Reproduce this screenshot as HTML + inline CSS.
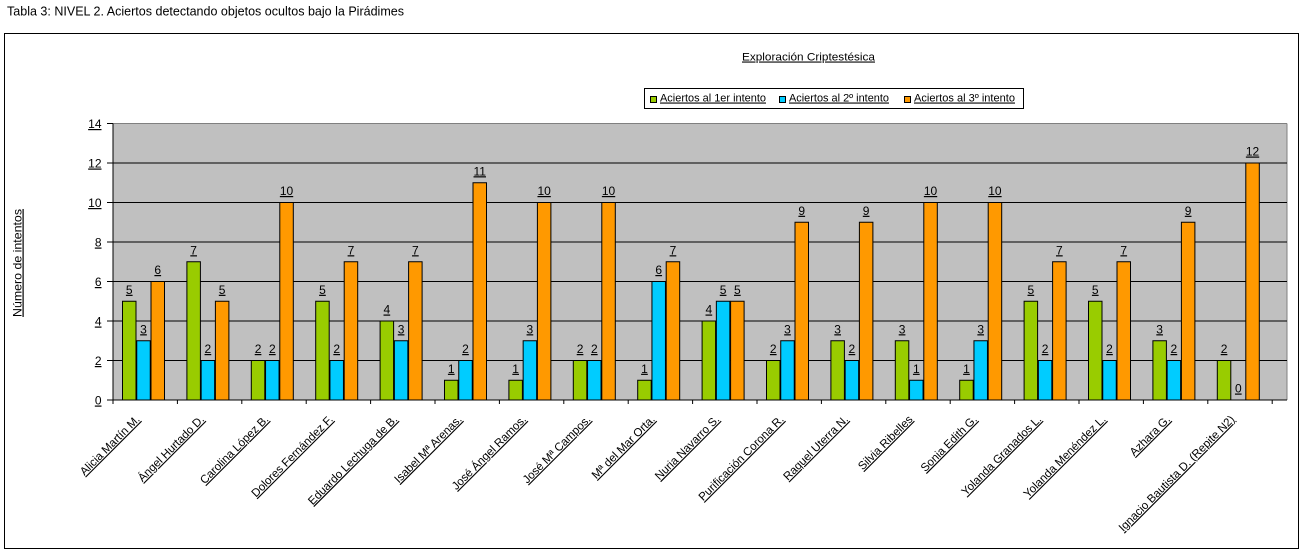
<!DOCTYPE html>
<html><head><meta charset="utf-8">
<style>
html,body{margin:0;padding:0;background:#fff;}
svg{display:block;}
text{font-family:"Liberation Sans",Arial,sans-serif;fill:#000;}
.u{text-decoration:underline;}
.g{fill:#99CC00;stroke:#000;stroke-width:1;}
.b{fill:#00CCFF;stroke:#000;stroke-width:1;}
.o{fill:#FF9900;stroke:#000;stroke-width:1;}
.v{font-size:12px;text-anchor:middle;text-decoration:underline;}
.xl{font-size:11.5px;text-anchor:end;text-decoration:underline;}
</style></head>
<body>
<svg width="1303" height="550" viewBox="0 0 1303 550" xmlns="http://www.w3.org/2000/svg">
<text x="7" y="15.5" font-size="13" textLength="397" lengthAdjust="spacingAndGlyphs">Tabla 3: NIVEL 2. Aciertos detectando objetos ocultos bajo la Pirádimes</text>
<rect x="4.5" y="33.5" width="1294" height="515" fill="#fff" stroke="#000" stroke-width="1"/>
<text x="742" y="60.5" font-size="11" class="u" textLength="133" lengthAdjust="spacingAndGlyphs">Exploración  Criptestésica</text>
<!-- legend -->
<rect x="644.5" y="88.5" width="379" height="20" fill="#fff" stroke="#000" stroke-width="1"/>
<rect x="650.5" y="96.5" width="6" height="6" class="g"/>
<text x="660" y="101.5" font-size="11" class="u" textLength="106" lengthAdjust="spacingAndGlyphs">Aciertos al 1er intento</text>
<rect x="779.5" y="96.5" width="6" height="6" class="b"/>
<text x="789" y="101.5" font-size="11" class="u" textLength="100" lengthAdjust="spacingAndGlyphs">Aciertos al 2º intento</text>
<rect x="904.5" y="96.5" width="6" height="6" class="o"/>
<text x="914" y="101.5" font-size="11" class="u" textLength="101" lengthAdjust="spacingAndGlyphs">Aciertos al 3º intento</text>
<!-- y title -->
<text transform="translate(21.5,263) rotate(-90)" font-size="12" text-anchor="middle" class="u" textLength="108" lengthAdjust="spacingAndGlyphs">Número de intentos</text>
<!-- plot area -->
<rect x="113" y="123.5" width="1174" height="276.5" fill="#C0C0C0"/>
<line x1="113" y1="123.5" x2="1287" y2="123.5" stroke="#808080"/>
<line x1="1287" y1="123.5" x2="1287" y2="400" stroke="#808080"/>
<g stroke="#000" stroke-width="1">
<line x1="113" y1="163" x2="1287" y2="163"/>
<line x1="113" y1="202.5" x2="1287" y2="202.5"/>
<line x1="113" y1="242" x2="1287" y2="242"/>
<line x1="113" y1="281.5" x2="1287" y2="281.5"/>
<line x1="113" y1="321" x2="1287" y2="321"/>
<line x1="113" y1="360.5" x2="1287" y2="360.5"/>
</g>
<!-- y ticks/labels -->
<g stroke="#000" stroke-width="1">
<line x1="107" y1="123.5" x2="113" y2="123.5"/>
<line x1="107" y1="163" x2="113" y2="163"/>
<line x1="107" y1="202.5" x2="113" y2="202.5"/>
<line x1="107" y1="242" x2="113" y2="242"/>
<line x1="107" y1="281.5" x2="113" y2="281.5"/>
<line x1="107" y1="321" x2="113" y2="321"/>
<line x1="107" y1="360.5" x2="113" y2="360.5"/>
<line x1="107" y1="400" x2="113" y2="400"/>
</g>
<g font-size="12" text-anchor="end" class="u">
<text x="101.5" y="128">14</text>
<text x="101.5" y="167.5">12</text>
<text x="101.5" y="207">10</text>
<text x="101.5" y="246.5">8</text>
<text x="101.5" y="286">6</text>
<text x="101.5" y="325.5">4</text>
<text x="101.5" y="365">2</text>
<text x="101.5" y="404.5">0</text>
</g>

<!-- groups -->
<g transform="translate(143.5,0)">
<rect x="-21" y="301.25" width="13.5" height="98.75" class="g"/><rect x="-6.75" y="340.75" width="13.5" height="59.25" class="b"/><rect x="7.5" y="281.5" width="13.5" height="118.5" class="o"/>
<text class="v" x="-14.25" y="293.75">5</text><text class="v" x="0" y="333.25">3</text><text class="v" x="14.25" y="274">6</text>
<text class="xl" x="-3" y="420" transform="rotate(-45 -3 420)">Alicia Martín M.</text>
</g>
<g transform="translate(207.9,0)">
<rect x="-21" y="261.75" width="13.5" height="138.25" class="g"/><rect x="-6.75" y="360.5" width="13.5" height="39.5" class="b"/><rect x="7.5" y="301.25" width="13.5" height="98.75" class="o"/>
<text class="v" x="-14.25" y="254.25">7</text><text class="v" x="0" y="353">2</text><text class="v" x="14.25" y="293.75">5</text>
<text class="xl" x="-3" y="420" transform="rotate(-45 -3 420)">Ángel Hurtado D.</text>
</g>
<g transform="translate(272.3,0)">
<rect x="-21" y="360.5" width="13.5" height="39.5" class="g"/><rect x="-6.75" y="360.5" width="13.5" height="39.5" class="b"/><rect x="7.5" y="202.5" width="13.5" height="197.5" class="o"/>
<text class="v" x="-14.25" y="353">2</text><text class="v" x="0" y="353">2</text><text class="v" x="14.25" y="195">10</text>
<text class="xl" x="-3" y="420" transform="rotate(-45 -3 420)">Carolina López B.</text>
</g>
<g transform="translate(336.7,0)">
<rect x="-21" y="301.25" width="13.5" height="98.75" class="g"/><rect x="-6.75" y="360.5" width="13.5" height="39.5" class="b"/><rect x="7.5" y="261.75" width="13.5" height="138.25" class="o"/>
<text class="v" x="-14.25" y="293.75">5</text><text class="v" x="0" y="353">2</text><text class="v" x="14.25" y="254.25">7</text>
<text class="xl" x="-3" y="420" transform="rotate(-45 -3 420)">Dolores Fernández F.</text>
</g>
<g transform="translate(401.1,0)">
<rect x="-21" y="321" width="13.5" height="79" class="g"/><rect x="-6.75" y="340.75" width="13.5" height="59.25" class="b"/><rect x="7.5" y="261.75" width="13.5" height="138.25" class="o"/>
<text class="v" x="-14.25" y="313.5">4</text><text class="v" x="0" y="333.25">3</text><text class="v" x="14.25" y="254.25">7</text>
<text class="xl" x="-3" y="420" transform="rotate(-45 -3 420)">Eduardo Lechuga de B.</text>
</g>
<g transform="translate(465.5,0)">
<rect x="-21" y="380.25" width="13.5" height="19.75" class="g"/><rect x="-6.75" y="360.5" width="13.5" height="39.5" class="b"/><rect x="7.5" y="182.75" width="13.5" height="217.25" class="o"/>
<text class="v" x="-14.25" y="372.75">1</text><text class="v" x="0" y="353">2</text><text class="v" x="14.25" y="175.25">11</text>
<text class="xl" x="-3" y="420" transform="rotate(-45 -3 420)">Isabel Mª Arenas.</text>
</g>
<g transform="translate(529.9,0)">
<rect x="-21" y="380.25" width="13.5" height="19.75" class="g"/><rect x="-6.75" y="340.75" width="13.5" height="59.25" class="b"/><rect x="7.5" y="202.5" width="13.5" height="197.5" class="o"/>
<text class="v" x="-14.25" y="372.75">1</text><text class="v" x="0" y="333.25">3</text><text class="v" x="14.25" y="195">10</text>
<text class="xl" x="-3" y="420" transform="rotate(-45 -3 420)">José Ángel Ramos.</text>
</g>
<g transform="translate(594.3,0)">
<rect x="-21" y="360.5" width="13.5" height="39.5" class="g"/><rect x="-6.75" y="360.5" width="13.5" height="39.5" class="b"/><rect x="7.5" y="202.5" width="13.5" height="197.5" class="o"/>
<text class="v" x="-14.25" y="353">2</text><text class="v" x="0" y="353">2</text><text class="v" x="14.25" y="195">10</text>
<text class="xl" x="-3" y="420" transform="rotate(-45 -3 420)">José Mª Campos.</text>
</g>
<g transform="translate(658.7,0)">
<rect x="-21" y="380.25" width="13.5" height="19.75" class="g"/><rect x="-6.75" y="281.5" width="13.5" height="118.5" class="b"/><rect x="7.5" y="261.75" width="13.5" height="138.25" class="o"/>
<text class="v" x="-14.25" y="372.75">1</text><text class="v" x="0" y="274">6</text><text class="v" x="14.25" y="254.25">7</text>
<text class="xl" x="-3" y="420" transform="rotate(-45 -3 420)">Mª del Mar Orta.</text>
</g>
<g transform="translate(723.1,0)">
<rect x="-21" y="321" width="13.5" height="79" class="g"/><rect x="-6.75" y="301.25" width="13.5" height="98.75" class="b"/><rect x="7.5" y="301.25" width="13.5" height="98.75" class="o"/>
<text class="v" x="-14.25" y="313.5">4</text><text class="v" x="0" y="293.75">5</text><text class="v" x="14.25" y="293.75">5</text>
<text class="xl" x="-3" y="420" transform="rotate(-45 -3 420)">Nuria Navarro S.</text>
</g>
<g transform="translate(787.5,0)">
<rect x="-21" y="360.5" width="13.5" height="39.5" class="g"/><rect x="-6.75" y="340.75" width="13.5" height="59.25" class="b"/><rect x="7.5" y="222.25" width="13.5" height="177.75" class="o"/>
<text class="v" x="-14.25" y="353">2</text><text class="v" x="0" y="333.25">3</text><text class="v" x="14.25" y="214.75">9</text>
<text class="xl" x="-3" y="420" transform="rotate(-45 -3 420)">Purificación Corona R.</text>
</g>
<g transform="translate(851.9,0)">
<rect x="-21" y="340.75" width="13.5" height="59.25" class="g"/><rect x="-6.75" y="360.5" width="13.5" height="39.5" class="b"/><rect x="7.5" y="222.25" width="13.5" height="177.75" class="o"/>
<text class="v" x="-14.25" y="333.25">3</text><text class="v" x="0" y="353">2</text><text class="v" x="14.25" y="214.75">9</text>
<text class="xl" x="-3" y="420" transform="rotate(-45 -3 420)">Raquel Uterra N.</text>
</g>
<g transform="translate(916.3,0)">
<rect x="-21" y="340.75" width="13.5" height="59.25" class="g"/><rect x="-6.75" y="380.25" width="13.5" height="19.75" class="b"/><rect x="7.5" y="202.5" width="13.5" height="197.5" class="o"/>
<text class="v" x="-14.25" y="333.25">3</text><text class="v" x="0" y="372.75">1</text><text class="v" x="14.25" y="195">10</text>
<text class="xl" x="-3" y="420" transform="rotate(-45 -3 420)">Silvia Ribelles</text>
</g>
<g transform="translate(980.7,0)">
<rect x="-21" y="380.25" width="13.5" height="19.75" class="g"/><rect x="-6.75" y="340.75" width="13.5" height="59.25" class="b"/><rect x="7.5" y="202.5" width="13.5" height="197.5" class="o"/>
<text class="v" x="-14.25" y="372.75">1</text><text class="v" x="0" y="333.25">3</text><text class="v" x="14.25" y="195">10</text>
<text class="xl" x="-3" y="420" transform="rotate(-45 -3 420)">Sonia Edith G.</text>
</g>
<g transform="translate(1045.1,0)">
<rect x="-21" y="301.25" width="13.5" height="98.75" class="g"/><rect x="-6.75" y="360.5" width="13.5" height="39.5" class="b"/><rect x="7.5" y="261.75" width="13.5" height="138.25" class="o"/>
<text class="v" x="-14.25" y="293.75">5</text><text class="v" x="0" y="353">2</text><text class="v" x="14.25" y="254.25">7</text>
<text class="xl" x="-3" y="420" transform="rotate(-45 -3 420)">Yolanda Granados L.</text>
</g>
<g transform="translate(1109.5,0)">
<rect x="-21" y="301.25" width="13.5" height="98.75" class="g"/><rect x="-6.75" y="360.5" width="13.5" height="39.5" class="b"/><rect x="7.5" y="261.75" width="13.5" height="138.25" class="o"/>
<text class="v" x="-14.25" y="293.75">5</text><text class="v" x="0" y="353">2</text><text class="v" x="14.25" y="254.25">7</text>
<text class="xl" x="-3" y="420" transform="rotate(-45 -3 420)">Yolanda Menéndez L.</text>
</g>
<g transform="translate(1173.9,0)">
<rect x="-21" y="340.75" width="13.5" height="59.25" class="g"/><rect x="-6.75" y="360.5" width="13.5" height="39.5" class="b"/><rect x="7.5" y="222.25" width="13.5" height="177.75" class="o"/>
<text class="v" x="-14.25" y="333.25">3</text><text class="v" x="0" y="353">2</text><text class="v" x="14.25" y="214.75">9</text>
<text class="xl" x="-3" y="420" transform="rotate(-45 -3 420)">Azhara G.</text>
</g>
<g transform="translate(1238.3,0)">
<rect x="-21" y="360.5" width="13.5" height="39.5" class="g"/><rect x="7.5" y="163" width="13.5" height="237" class="o"/>
<text class="v" x="-14.25" y="353">2</text><text class="v" x="0" y="392.5">0</text><text class="v" x="14.25" y="155.5">12</text>
<text class="xl" x="-3" y="420" transform="rotate(-45 -3 420)">Ignacio Bautista D. (Repite N2)</text>
</g>

<!-- axes -->
<line x1="113" y1="123.5" x2="113" y2="400" stroke="#000"/>
<line x1="113" y1="400" x2="1287" y2="400" stroke="#000"/>
<g stroke="#000" stroke-width="1">
<line x1="113" y1="400" x2="113" y2="404"/>
<line x1="177.4" y1="400" x2="177.4" y2="404"/>
<line x1="241.8" y1="400" x2="241.8" y2="404"/>
<line x1="306.2" y1="400" x2="306.2" y2="404"/>
<line x1="370.6" y1="400" x2="370.6" y2="404"/>
<line x1="435" y1="400" x2="435" y2="404"/>
<line x1="499.4" y1="400" x2="499.4" y2="404"/>
<line x1="563.8" y1="400" x2="563.8" y2="404"/>
<line x1="628.2" y1="400" x2="628.2" y2="404"/>
<line x1="692.6" y1="400" x2="692.6" y2="404"/>
<line x1="757" y1="400" x2="757" y2="404"/>
<line x1="821.4" y1="400" x2="821.4" y2="404"/>
<line x1="885.8" y1="400" x2="885.8" y2="404"/>
<line x1="950.2" y1="400" x2="950.2" y2="404"/>
<line x1="1014.6" y1="400" x2="1014.6" y2="404"/>
<line x1="1079" y1="400" x2="1079" y2="404"/>
<line x1="1143.4" y1="400" x2="1143.4" y2="404"/>
<line x1="1207.8" y1="400" x2="1207.8" y2="404"/>
<line x1="1272.2" y1="400" x2="1272.2" y2="404"/>
</g>
</svg>
</body></html>
